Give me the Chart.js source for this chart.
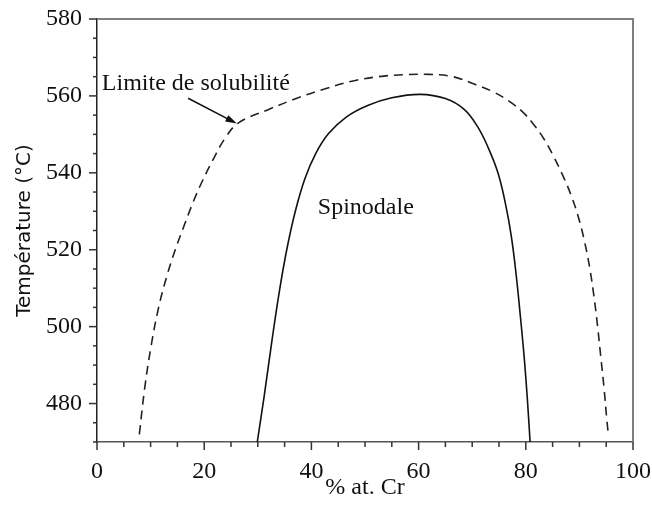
<!DOCTYPE html>
<html>
<head>
<meta charset="utf-8">
<script src="https://cdn.jsdelivr.net/npm/chart.js@4"></script>
<style>
  html, body { margin: 0; padding: 0; background: #fff; }
  #wrap { width: 652px; height: 507px; }
</style>
</head>
<body>
<div id="wrap"><canvas id="chart"></canvas></div>
<script>
// limite de solubilité (dashed)
const solX = [7.9, 8.9, 10.1, 11.5, 13.0, 14.6, 16.4, 18.0, 19.7, 21.6, 23.9, 26.4, 31.7, 37.9, 42.9, 47.8, 52.5, 57.1, 62.0, 66.4, 70.5, 74.0, 77.0, 79.5, 81.5, 83.3, 85.1, 87.0, 88.5, 89.8, 90.9, 91.9, 92.7, 93.4, 94.0, 94.6, 95.1, 95.4];
const solT = [472, 484, 495, 505, 513, 520, 526.8, 532.6, 538, 543.3, 549, 553, 556.3, 559.7, 562, 563.9, 565, 565.5, 565.6, 565, 563, 561, 558.5, 555.7, 552.5, 549, 544.5, 539, 534, 528.5, 522.5, 515.5, 508, 500, 492, 484, 476, 472];

// spinodale (solid)
const spiX = [29.9, 31.2, 32.6, 34.0, 35.4, 37.0, 38.8, 40.8, 43.2, 46.5, 50.5, 55.0, 60.3, 65.0, 68.5, 71.0, 73.0, 74.8, 76.2, 77.3, 78.2, 79.0, 79.7, 80.3, 80.8];
const spiT = [470, 482, 496, 509, 520, 530, 538.5, 545, 550.2, 554.5, 557.5, 559.5, 560.4, 559.3, 556.5, 552, 546.5, 540, 532, 523.5, 513.5, 502.5, 492, 481, 470];

const xTicks = [0, 20, 40, 60, 80, 100];
const yTicks = [480, 500, 520, 540, 560, 580];

const serif = 'Liberation Serif';

const pts = (xs, ys) => xs.map((x, i) => ({ x: x, y: ys[i] }));

// frame, tick marks and the two labels with the arrow
const decor = {
    id: 'decor',
    afterDraw(chart) {
        const ctx = chart.ctx;
        const a = chart.chartArea;
        const sx = chart.scales.x, sy = chart.scales.y;
        ctx.save();

        ctx.strokeStyle = '#808080';
        ctx.lineWidth = 2;
        ctx.beginPath();
        ctx.moveTo(a.left, a.top);
        ctx.lineTo(a.right, a.top);
        ctx.lineTo(a.right, a.bottom);
        ctx.stroke();

        ctx.strokeStyle = '#333';
        ctx.lineWidth = 1.5;
        sy.ticks.forEach(t => {
            const y = sy.getPixelForValue(t.value);
            const len = yTicks.includes(t.value) ? 8 : 4;
            ctx.beginPath();
            ctx.moveTo(a.left - len, y);
            ctx.lineTo(a.left, y);
            ctx.stroke();
        });
        sx.ticks.forEach(t => {
            const x = sx.getPixelForValue(t.value);
            const len = xTicks.includes(t.value) ? 8 : 5;
            ctx.beginPath();
            ctx.moveTo(x, a.bottom);
            ctx.lineTo(x, a.bottom + len);
            ctx.stroke();
        });

        ctx.fillStyle = '#111';
        ctx.font = '24px "' + serif + '"';
        ctx.textBaseline = 'middle';
        ctx.textAlign = 'left';
        ctx.fillText('Limite de solubilité', sx.getPixelForValue(0.9), sy.getPixelForValue(563.3));
        ctx.fillText('Spinodale', sx.getPixelForValue(41.2), sy.getPixelForValue(531));

        // arrow
        const x0 = sx.getPixelForValue(17.0), y0 = sy.getPixelForValue(559.4);
        const x1 = sx.getPixelForValue(26.1), y1 = sy.getPixelForValue(552.8);
        const ang = Math.atan2(y1 - y0, x1 - x0);
        ctx.strokeStyle = '#111';
        ctx.lineWidth = 1.5;
        ctx.beginPath();
        ctx.moveTo(x0, y0);
        ctx.lineTo(x1 - 6 * Math.cos(ang), y1 - 6 * Math.sin(ang));
        ctx.stroke();
        ctx.beginPath();
        ctx.moveTo(x1, y1);
        ctx.lineTo(x1 - 12 * Math.cos(ang - 0.3), y1 - 12 * Math.sin(ang - 0.3));
        ctx.lineTo(x1 - 12 * Math.cos(ang + 0.3), y1 - 12 * Math.sin(ang + 0.3));
        ctx.closePath();
        ctx.fill();

        ctx.restore();
    }
};

new Chart(document.getElementById('chart'), {
    type: 'scatter',
    data: {
        datasets: [{
            label: 'Limite de solubilité',
            data: pts(solX, solT),
            showLine: true,
            borderColor: '#222',
            borderWidth: 1.6,
            borderDash: [9, 6],
            pointRadius: 0,
            tension: 0.4
        }, {
            label: 'Spinodale',
            data: pts(spiX, spiT),
            showLine: true,
            borderColor: '#111',
            borderWidth: 1.6,
            pointRadius: 0,
            tension: 0.4
        }]
    },
    options: {
        responsive: true,
        maintainAspectRatio: false,
        animation: false,
        layout: { padding: { top: 19, right: 19, left: 0, bottom: 0 } },
        plugins: { legend: { display: false }, tooltip: { enabled: false } },
        scales: {
            x: {
                type: 'linear',
                min: 0, max: 100,
                ticks: {
                    stepSize: 5,
                    autoSkip: false,
                    maxRotation: 0,
                    padding: 15,
                    color: '#111',
                    font: { family: serif, size: 24 },
                    callback: v => xTicks.includes(v) ? v : ''
                },
                grid: { display: false, drawTicks: false },
                border: { display: true, color: '#555', width: 1.5 },
                title: {
                    display: true,
                    text: '% at. Cr',
                    color: '#111',
                    font: { family: serif, size: 24 },
                    padding: { top: 0, bottom: 5 }
                },
                afterFit: s => { s.height = 65; s.paddingLeft = 0; s.paddingRight = 0; }
            },
            y: {
                type: 'linear',
                min: 470, max: 580,
                ticks: {
                    stepSize: 5,
                    autoSkip: false,
                    padding: 15,
                    color: '#111',
                    font: { family: serif, size: 24 },
                    callback: v => yTicks.includes(v) ? v : ''
                },
                grid: { display: false, drawTicks: false },
                border: { display: true, color: '#222', width: 1.5 },
                title: {
                    display: true,
                    text: 'Température (°C)',
                    color: '#111',
                    font: { family: 'DejaVu Sans', size: 20 },
                    padding: { top: 13, bottom: 0 }
                },
                afterFit: s => { s.width = 97; s.paddingTop = 0; s.paddingBottom = 0; }
            }
        }
    },
    plugins: [decor]
});
</script>
</body>
</html>
